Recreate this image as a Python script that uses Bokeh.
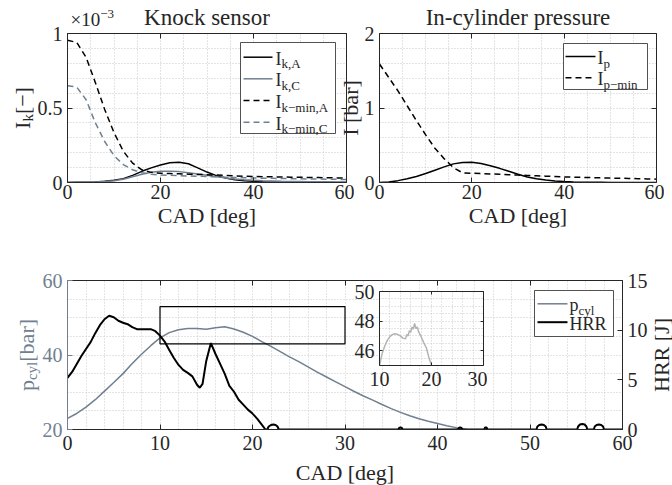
import math
from bokeh.plotting import figure
from bokeh.models import Range1d, LinearAxis, FixedTicker, Label, BoxAnnotation
from bokeh.embed import file_html
from bokeh.resources import INLINE

# ---------------- data ----------------
cad_top = [0, 2, 4, 6, 8, 10, 12, 14, 16, 18, 20, 22, 24, 26, 28, 30,
           32, 34, 36, 38, 40, 42, 44, 46, 48, 50, 52, 54, 56, 58, 60]
# knock-sensor intensities, in units of 1e-3
ik_A = [0.000, 0.001, 0.002, 0.004, 0.008, 0.015, 0.026, 0.048, 0.075, 0.098, 0.118,
        0.132, 0.136, 0.126, 0.098, 0.070, 0.046, 0.030, 0.019, 0.012, 0.008, 0.005,
        0.004, 0.003, 0.002, 0.002, 0.001, 0.001, 0.001, 0.000, 0.000]
ik_C = [0.000, 0.001, 0.002, 0.004, 0.007, 0.012, 0.022, 0.038, 0.055, 0.068, 0.075,
        0.076, 0.073, 0.066, 0.057, 0.048, 0.039, 0.031, 0.024, 0.019, 0.015, 0.012,
        0.010, 0.008, 0.007, 0.006, 0.005, 0.004, 0.004, 0.003, 0.003]
ik_min_A = [0.955, 0.94, 0.84, 0.67, 0.49, 0.335, 0.21, 0.13, 0.085, 0.068, 0.062,
            0.060, 0.058, 0.056, 0.054, 0.052, 0.050, 0.047, 0.044, 0.042, 0.040,
            0.039, 0.038, 0.037, 0.036, 0.035, 0.034, 0.033, 0.032, 0.031, 0.030]
ik_min_C = [0.65, 0.64, 0.555, 0.40, 0.275, 0.18, 0.12, 0.085, 0.065, 0.055, 0.050,
            0.048, 0.046, 0.044, 0.042, 0.040, 0.038, 0.036, 0.034, 0.032, 0.030,
            0.029, 0.028, 0.027, 0.026, 0.025, 0.024, 0.023, 0.022, 0.021, 0.020]
# in-cylinder pressure intensities [bar]
ip = [0.000, 0.008, 0.025, 0.050, 0.080, 0.120, 0.165, 0.210, 0.250, 0.268, 0.272,
      0.255, 0.225, 0.190, 0.150, 0.110, 0.075, 0.050, 0.032, 0.020, 0.012, 0.007,
      0.004, 0.003, 0.002, 0.001, 0.001, 0.001, 0.001, 0.001, 0.001]
ip_min = [1.59, 1.41, 1.23, 1.03, 0.83, 0.64, 0.46, 0.32, 0.20, 0.13, 0.125, 0.12,
          0.115, 0.11, 0.105, 0.10, 0.095, 0.09, 0.085, 0.08, 0.075, 0.072, 0.069,
          0.066, 0.063, 0.06, 0.057, 0.054, 0.051, 0.048, 0.045]

cad_p = [0, 1, 2, 3, 4, 5, 6, 7, 8, 9, 10, 11, 12, 13, 14, 15, 16, 17, 18, 19, 20,
         21, 22, 23, 24, 25, 26, 27, 28, 29, 30, 31, 32, 33, 34, 35, 36, 37, 38, 39, 40,
         41, 42, 43, 44, 45, 46, 47, 48, 49, 50, 51, 52, 53, 54, 55, 56, 57, 58, 59, 60]
p_cyl = [23.0, 24.3, 26.0, 28.0, 30.3, 32.6, 35.0, 37.7, 40.2, 42.5, 44.6, 46.0, 46.8,
         47.1, 47.1, 46.9, 47.3, 47.6, 47.0, 46.1, 45.0, 43.6, 42.3, 40.9, 39.5, 38.2,
         36.8, 35.4, 34.1, 32.8, 31.5, 30.2, 29.0, 27.9, 26.7, 25.6, 24.6, 23.7, 22.9,
         22.2, 21.6, 21.0, 20.5, 20.05, 19.6, 19.2, 18.8, 18.4, 18.0, 17.7, 17.4, 17.1,
         16.8, 16.5, 16.2, 15.9, 15.7, 15.4, 15.2, 15.0, 14.8]

cad_hrr = [0, 0.5, 1, 1.5, 2, 2.5, 3, 3.5, 4, 4.5, 5, 5.5, 6, 6.5, 7, 7.5, 8, 8.5, 9,
           9.5, 10, 10.5, 11, 11.5, 12, 12.5, 13, 13.5, 14, 14.3, 14.6, 15, 15.5, 16,
           16.5, 17, 17.5, 18, 18.5, 19, 19.5, 20, 20.5, 21, 21.4, 21.6, 21.75, 22.0,
           22.25, 22.5, 22.7, 22.85, 35.75, 35.85, 36.0, 36.15, 36.25, 42.2, 42.3,
           42.45, 42.6, 42.7, 45.05, 45.15, 45.3, 45.4, 50.7, 50.8, 51.0, 51.25, 51.5,
           51.7, 51.8, 55.1, 55.2, 55.4, 55.65, 55.9, 56.1, 56.2, 56.9, 57.0, 57.2,
           57.45, 57.7, 57.9, 58.0, 60]
hrr = [5.2, 5.8, 6.6, 7.4, 8.1, 8.8, 9.7, 10.5, 11.1, 11.45, 11.3, 10.95, 10.75, 10.6,
       10.3, 10.1, 10.1, 10.1, 10.1, 9.9, 9.45, 8.85, 8.0, 7.2, 6.5, 6.0, 5.7, 5.35, 4.5,
       4.2, 4.6, 6.9, 8.7, 7.6, 6.6, 5.6, 4.4, 3.8, 3.0, 2.5, 2.0, 1.6, 1.1, 0.5, 0.0,
       0.0, 0.3, 0.45, 0.5, 0.45, 0.3, 0.0, 0.0, 0.15, 0.2, 0.15, 0.0, 0.0, 0.15, 0.2,
       0.15, 0.0, 0.0, 0.2, 0.2, 0.0, 0.0, 0.3, 0.45, 0.5, 0.45, 0.3, 0.0, 0.0, 0.3, 0.5,
       0.55, 0.5, 0.3, 0.0, 0.0, 0.3, 0.45, 0.5, 0.45, 0.3, 0.0, 0.0]

# zoomed pressure trace shown in the inset
cad_zoom = [10.0, 10.5, 11.0, 11.5, 12.0, 12.5, 13.0, 13.5, 14.0, 14.5, 15.0, 15.25,
            15.5, 15.75, 16.0, 16.25, 16.5, 16.75, 17.0, 17.25, 17.5, 18.0, 18.5, 19.0,
            19.5, 20.0, 20.5]
p_cyl_zoom = [45.0, 45.8, 46.3, 46.7, 46.95, 47.1, 47.15, 47.1, 47.0, 46.85, 46.8, 47.1,
              47.0, 47.35, 47.25, 47.6, 47.45, 47.85, 47.5, 47.6, 47.3, 46.95, 46.55,
              46.2, 45.55, 45.0, 44.4]

# zoom-window marker drawn on the bottom plot
zoom_cad = [10, 30]
zoom_p = [43, 53]

# ticks
top_xticks = [0, 20, 40, 60]
top_xminor = [5, 10, 15, 25, 30, 35, 45, 50, 55]
ik_yticks = [0, 0.5, 1]
ik_yminor = [0.1, 0.2, 0.3, 0.4, 0.6, 0.7, 0.8, 0.9]
ik_ylabels = {0: "0", 0.5: "0.5", 1: "1"}
ip_yticks = [0, 1, 2]
ip_yminor = [0.2, 0.4, 0.6, 0.8, 1.2, 1.4, 1.6, 1.8]
bot_xticks = [0, 10, 20, 30, 40, 50, 60]
bot_xminor = [2, 4, 6, 8, 12, 14, 16, 18, 22, 24, 26, 28, 32, 34, 36, 38, 42, 44, 46,
              48, 52, 54, 56, 58]
p_yticks = [20, 40, 60]
p_yminor = [25, 30, 35, 45, 50, 55]
hrr_ticks = [0, 5, 10, 15]
ins_xticks = [10, 20, 30]
ins_xminor = [12, 14, 16, 18, 22, 24, 26, 28]
ins_yticks = [46, 48, 50]
ins_yminor = [45, 45.5, 46.5, 47, 47.5, 48.5, 49, 49.5]

# ---------------- styling ----------------
FONT = "Liberation Serif"
TXT = "#262626"
SLATE = "#708090"
GRID = "#c8c8c8"
INSET = "#b4b4b4"
DASH = "6 4"
PAGE_W, PAGE_H = 672, 485
BASE_FIX = 0.25   # correction of the label baseline, in font sizes

W = {' ': 250, '-': 333, ',': 250, '[': 333, ']': 333, '\u2212': 564, '\u00d7': 564,
     'A': 722, 'C': 667, 'D': 722, 'H': 722, 'I': 333, 'J': 389, 'K': 722, 'R': 667,
     'a': 444, 'b': 500, 'c': 444, 'd': 500, 'e': 444, 'g': 500, 'i': 278, 'k': 500,
     'l': 278, 'm': 778, 'n': 500, 'o': 500, 'p': 500, 'r': 333, 's': 389, 'u': 500,
     'y': 500}


def tw(s, size):
    return sum(W.get(c, 500) for c in s) / 1000.0 * size


class Frame:
    def __init__(self, left, top, w, h, xr, yr):
        self.left, self.top, self.w, self.h = left, top, w, h
        self.bottom = top + h
        self.x0, self.x1 = xr
        self.y0, self.y1 = yr

    def dx(self, px):
        return self.x0 + (px - self.left) / self.w * (self.x1 - self.x0)

    def dy(self, py):
        return self.y0 + (self.bottom - py) / self.h * (self.y1 - self.y0)


def make_fig(fr, lb, rb, tb, bb):
    p = figure(width=lb + fr.w + rb, height=tb + fr.h + bb,
               x_range=Range1d(fr.x0, fr.x1), y_range=Range1d(fr.y0, fr.y1),
               min_border_left=lb, min_border_right=rb, min_border_top=tb,
               min_border_bottom=bb, output_backend="svg", toolbar_location=None,
               border_fill_color=None, background_fill_color="white",
               outline_line_color=None)
    p.styles = {"position": "absolute", "left": f"{fr.left - lb}px",
                "top": f"{fr.top - tb}px"}
    return p


def tick_axis(ax, ticker, color, standoff, show=True, tick=5):
    ax.ticker = ticker
    ax.axis_line_color = color
    ax.axis_line_width = 1
    ax.major_tick_line_color = color
    ax.major_tick_in = tick
    ax.major_tick_out = 0
    ax.minor_tick_in = 0
    ax.minor_tick_out = 0
    ax.major_label_standoff = standoff
    ax.major_label_text_font = FONT
    ax.major_label_text_color = color
    if show:
        ax.major_label_text_font_size = "20px"
    else:
        ax.major_label_text_font_size = "1px"
        ax.major_label_text_alpha = 0
    ax.axis_label = None


def setup(p, xt, xm, yt, ym, xstand, ycolor=TXT, mirror_right=True, tick=5):
    xtk = FixedTicker(ticks=xt, minor_ticks=xm)
    ytk = FixedTicker(ticks=yt, minor_ticks=ym)
    tick_axis(p.below[0], xtk, TXT, xstand, tick=tick)
    tick_axis(p.left[0], ytk, ycolor, 5, tick=tick)
    p.xgrid.ticker = xtk
    p.ygrid.ticker = ytk
    for g in list(p.xgrid) + list(p.ygrid):
        g.grid_line_color = GRID
        g.grid_line_dash = "1 2"
        g.grid_line_width = 1
        g.minor_grid_line_color = GRID
        g.minor_grid_line_dash = "1 2"
        g.minor_grid_line_width = 1
    top = LinearAxis()
    tick_axis(top, xtk, TXT, 0, show=False, tick=tick)
    p.add_layout(top, "above")
    if mirror_right:
        r = LinearAxis()
        tick_axis(r, ytk, TXT, 0, show=False, tick=tick)
        p.add_layout(r, "right")
    return xtk, ytk


# transparent text layer covering the whole page (coordinates = page pixels)
p0 = figure(width=PAGE_W, height=PAGE_H, x_range=Range1d(0, PAGE_W),
            y_range=Range1d(0, PAGE_H), x_axis_type=None, y_axis_type=None,
            min_border=0, min_border_left=0, min_border_right=0, min_border_top=0,
            min_border_bottom=0, output_backend="svg", toolbar_location=None,
            border_fill_color=None, background_fill_color=None, outline_line_color=None)
p0.styles = {"position": "absolute", "left": "0px", "top": "0px"}


def rich(pieces, px, py, align="left", angle=0.0, color=TXT):
    """pieces: (text, font px, baseline shift px, + = raised); px/py page position."""
    total = sum(tw(t, s) for t, s, _ in pieces)
    cum = -total / 2.0 if align == "center" else 0.0
    for t, s, sh in pieces:
        fix = BASE_FIX * s
        if angle:
            x = px - sh - fix
            y = PAGE_H - py + cum
        else:
            x = px + cum
            y = PAGE_H - py + sh + fix
        p0.add_layout(Label(x=x, y=y, text=t, angle=angle, text_font=FONT,
                            text_font_size=f"{s}px", text_color=color,
                            text_align="left", text_baseline="alphabetic"))
        cum += tw(t, s)


def legend(p, fr, box, xl, xt, entries):
    l, t, r, b = box
    p.add_layout(BoxAnnotation(left=fr.dx(l), right=fr.dx(r), top=fr.dy(t),
                               bottom=fr.dy(b), fill_color="white", fill_alpha=1.0,
                               line_color=TXT, line_width=0.8, line_alpha=1.0))
    for y, color, dash, width, pieces in entries:
        p.line([fr.dx(xl[0]), fr.dx(xl[1])], [fr.dy(y), fr.dy(y)], line_color=color,
               line_dash=dash, line_width=width, level="overlay")
        rich(pieces, xt, y + 6)


# ---------------- top-left: knock sensor ----------------
F1 = Frame(67, 33, 279, 149, (0, 60), (0, 1))
p1 = make_fig(F1, 67, 8, 33, 55)
setup(p1, top_xticks, top_xminor, ik_yticks, ik_yminor, 2)
p1.left[0].major_label_overrides = ik_ylabels
p1.line(cad_top, ik_A, line_color="black", line_width=1.5)
p1.line(cad_top, ik_C, line_color=SLATE, line_width=1.5)
p1.line(cad_top, ik_min_A, line_color="black", line_width=1.5, line_dash=DASH)
p1.line(cad_top, ik_min_C, line_color=SLATE, line_width=1.5, line_dash=DASH)
rich([("Knock sensor", 23, 0)], 206.5, 23, align="center")
rich([("\u00d710", 19, 0), ("\u22123", 13, 7)], 70, 24)
rich([("CAD [deg]", 22, 0)], 206.5, 220, align="center")
rich([("I", 22, 0), ("k", 15, -4), ("[\u2212]", 22, 0)], 27, 107.5,
     align="center", angle=math.pi / 2)
legend(p1, F1, (240, 42, 335, 133), (243, 272), 275, [
    (56.7, "black", "solid", 1.5, [("I", 18, 0), ("k,A", 13, -4)]),
    (78.3, SLATE, "solid", 1.5, [("I", 18, 0), ("k,C", 13, -4)]),
    (100.0, "black", DASH, 1.5, [("I", 18, 0), ("k\u2212min,A", 13, -4)]),
    (121.7, SLATE, DASH, 1.5, [("I", 18, 0), ("k\u2212min,C", 13, -4)]),
])

# ---------------- top-right: in-cylinder pressure ----------------
F2 = Frame(379, 33, 277, 149, (0, 60), (0, 2))
p2 = make_fig(F2, 45, 8, 33, 55)
setup(p2, top_xticks, top_xminor, ip_yticks, ip_yminor, 2)
p2.line(cad_top, ip, line_color="black", line_width=1.5)
p2.line(cad_top, ip_min, line_color="black", line_width=1.5, line_dash=DASH)
rich([("In-cylinder pressure", 23, 0)], 517.5, 23, align="center")
rich([("CAD [deg]", 22, 0)], 517.5, 220, align="center")
rich([("I [bar]", 22, 0)], 355, 107.5, align="center", angle=math.pi / 2)
legend(p2, F2, (563, 43, 647, 89), (565, 595), 597, [
    (56.0, "black", "solid", 1.5, [("I", 18, 0), ("p", 13, -4)]),
    (77.3, "black", DASH, 1.5, [("I", 18, 0), ("p\u2212min", 13, -4)]),
])

# ---------------- bottom: pressure and heat release ----------------
F3 = Frame(67, 280, 555, 149, (0, 60), (20, 60))
p3 = make_fig(F3, 67, 50, 10, 55)
setup(p3, bot_xticks, bot_xminor, p_yticks, p_yminor, 6, ycolor=SLATE,
      mirror_right=False)
p3.extra_y_ranges = {"hrr": Range1d(0, 15)}
rax = LinearAxis(y_range_name="hrr")
tick_axis(rax, FixedTicker(ticks=hrr_ticks), TXT, 5)
p3.add_layout(rax, "right")
p3.line(cad_p, p_cyl, line_color=SLATE, line_width=1.5)
p3.line(cad_hrr, hrr, line_color="black", line_width=2, y_range_name="hrr")
p3.quad(left=[zoom_cad[0]], right=[zoom_cad[1]], bottom=[zoom_p[0]], top=[zoom_p[1]],
        fill_color=None, line_color="black", line_width=1.2)
rich([("CAD [deg]", 22, 0)], 344.5, 477, align="center")
rich([("p", 22, 0), ("cyl", 15, -4), ("[bar]", 22, 0)], 31, 354.5,
     align="center", angle=math.pi / 2, color=SLATE)
rich([("HRR [J]", 22, 0)], 666, 354.5, align="center", angle=math.pi / 2)
legend(p3, F3, (534, 290, 613, 336), (537, 567), 569, [
    (303.3, SLATE, "solid", 1.5, [("p", 18, 0), ("cyl", 13, -4)]),
    (321.7, "black", "solid", 2, [("HRR", 18, 0)]),
])

# ---------------- inset ----------------
F4 = Frame(379, 291, 104, 74, (10, 30), (45, 50))
p4 = make_fig(F4, 30, 4, 14, 30)
setup(p4, ins_xticks, ins_xminor, ins_yticks, ins_yminor, 6, tick=3)
p4.line(cad_zoom, p_cyl_zoom, line_color=INSET, line_width=1.5)

open("out.html", "w").write(file_html([p1, p2, p3, p4, p0], INLINE))
